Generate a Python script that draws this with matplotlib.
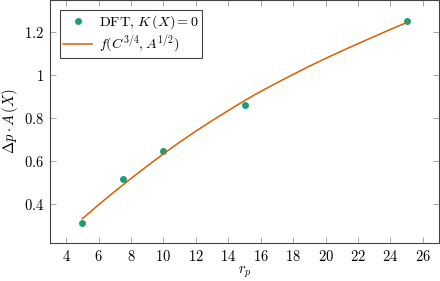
import matplotlib
matplotlib.use('Agg')
from matplotlib import pyplot as plt
from matplotlib.ticker import FixedLocator, FuncFormatter

# DFT points
r_p = [5, 7.5, 10, 15, 25]
dft = [0.315, 0.516, 0.648, 0.861, 1.254]

# fitted curve
fit_r = [5, 6, 7, 8, 9, 10, 11, 12, 13, 14, 15, 16, 17, 18, 19, 20, 21, 22, 23, 24, 25]
fit_y = [0.333, 0.398, 0.460, 0.520, 0.578, 0.635, 0.689, 0.740, 0.789, 0.836,
         0.882, 0.925, 0.965, 1.004, 1.042, 1.078, 1.113, 1.147, 1.180, 1.213, 1.245]

x_ticks = [4, 6, 8, 10, 12, 14, 16, 18, 20, 22, 24, 26]
y_ticks = [0.4, 0.6, 0.8, 1.0, 1.2]

plt.rcParams['mathtext.fontset'] = 'cm'
plt.rcParams['font.family'] = 'serif'
plt.rcParams['font.serif'] = ['DejaVu Serif']

green = '#1b9e77'
orange = '#d95f02'

fig = plt.figure(figsize=(4.4, 2.81), dpi=100)
ax = fig.add_axes([50 / 440, 38 / 281, 389 / 440, 243 / 281])

ax.plot(r_p, dft, 'o', color=green, ms=5, mec='none', label=r'$\mathrm{DFT},\, K\,(X) = 0$')
ax.plot(fit_r, fit_y, '-', color=orange, lw=1.1, label=r'$f(C^{3/4}, A^{1/2})$')

ax.set_xlim(3, 27)
ax.set_ylim(0.22, 1.35)
ax.xaxis.set_major_locator(FixedLocator(x_ticks))
ax.yaxis.set_major_locator(FixedLocator(y_ticks))
ax.xaxis.set_major_formatter(FuncFormatter(lambda v, p: r'$%g$' % v))
ax.yaxis.set_major_formatter(FuncFormatter(lambda v, p: r'$%g$' % v))
ax.tick_params(direction='in', top=True, right=True, length=4, width=0.6,
               color='#999999', labelsize=10.5, pad=4)
for s in ax.spines.values():
    s.set_color('#444444')
    s.set_linewidth(0.8)

ax.set_xlabel(r'$r_p$', fontsize=10.5, labelpad=1)
ax.set_ylabel(r'$\Delta p \cdot A\,(X)$', fontsize=10.5, labelpad=3)

leg = ax.legend(loc='upper left', fontsize=10.2, fancybox=False, framealpha=1,
                edgecolor='#444444', borderpad=0.25, handlelength=2.0,
                handletextpad=0.5, labelspacing=0.15, borderaxespad=0.7)
leg.get_frame().set_linewidth(0.8)

plt.savefig('out.png', dpi=100)
